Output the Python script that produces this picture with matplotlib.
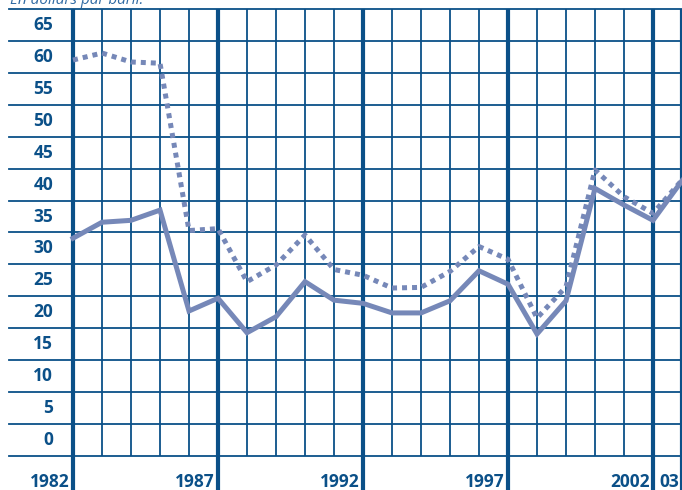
import matplotlib.pyplot as plt
import numpy as np

years = np.arange(1982, 2004)

# solid line
series_a = [31.6, 34.1, 34.4, 36.0, 20.2, 22.2, 16.8, 19.3, 24.8, 21.9, 21.4,
            19.9, 19.9, 21.8, 26.5, 24.4, 16.6, 21.8, 39.4, 36.8, 34.4, 40.6]
# dotted line
series_b = [59.5, 60.6, 59.2, 59.0, 32.8, 33.1, 24.8, 27.4, 32.1, 26.7, 25.8,
            23.8, 23.9, 26.4, 30.3, 28.3, 19.1, 24.0, 42.3, 38.1, 35.5, 40.7]

y_ticks = list(range(0, 70, 5))
x_labels = ["1982", "1987", "1992", "1997", "2002", "03"]
x_label_years = [1982, 1987, 1992, 1997, 2002, 2003]

grid_color = "#0b5088"
line_color = "#7688b8"
font = "Open Sans"

W, H = 682, 490
px_year = 29.0
x0_px = 73
px_unit = 447 / 70
y0_px = 440


def xd(px):
    return 1982 + (px - x0_px) / px_year


def yd(py):
    return (y0_px - py) / px_unit


fig = plt.figure(figsize=(W / 100, H / 100), dpi=100)
ax = fig.add_axes([0, 0, 1, 1])
ax.set_xlim(xd(0), xd(W))
ax.set_ylim(yd(H), yd(0))
ax.axis("off")

top = 67.5
bottom = -2.5

# horizontal grid
for v in np.arange(bottom, top + 1, 5):
    ax.plot([xd(9), xd(W)], [v, v], color=grid_color, lw=1.3, zorder=1)

# vertical grid
for yr in years:
    if yr in x_label_years:
        ax.plot([yr, yr], [yd(H), top], color=grid_color, lw=3.0,
                zorder=2, solid_capstyle="butt")
    else:
        ax.plot([yr, yr], [bottom, top], color=grid_color, lw=1.3,
                zorder=1, solid_capstyle="butt")

ax.plot(years, series_a, color=line_color, lw=3.6, zorder=3,
        solid_joinstyle="miter")
ax.plot(years, series_b, color=line_color, lw=3.6, zorder=3,
        linestyle=(0, (1, 1)), dash_capstyle="butt")

for v in y_ticks:
    ax.text(xd(53), v, str(v), ha="right", va="center", color=grid_color,
            fontsize=12.5, fontweight="bold", family=font)

for lab, yr in zip(x_labels, x_label_years):
    ax.text(yr - 3 / px_year, yd(482), lab, ha="right", va="center",
            color=grid_color, fontsize=12.5, fontweight="bold", family=font)

fig.text(10 / W, 1.0, "En dollars par baril.", ha="left", va="center",
         color="#2f6aa3", fontsize=11, style="italic", family=font)

fig.savefig("out.png", dpi=100)
